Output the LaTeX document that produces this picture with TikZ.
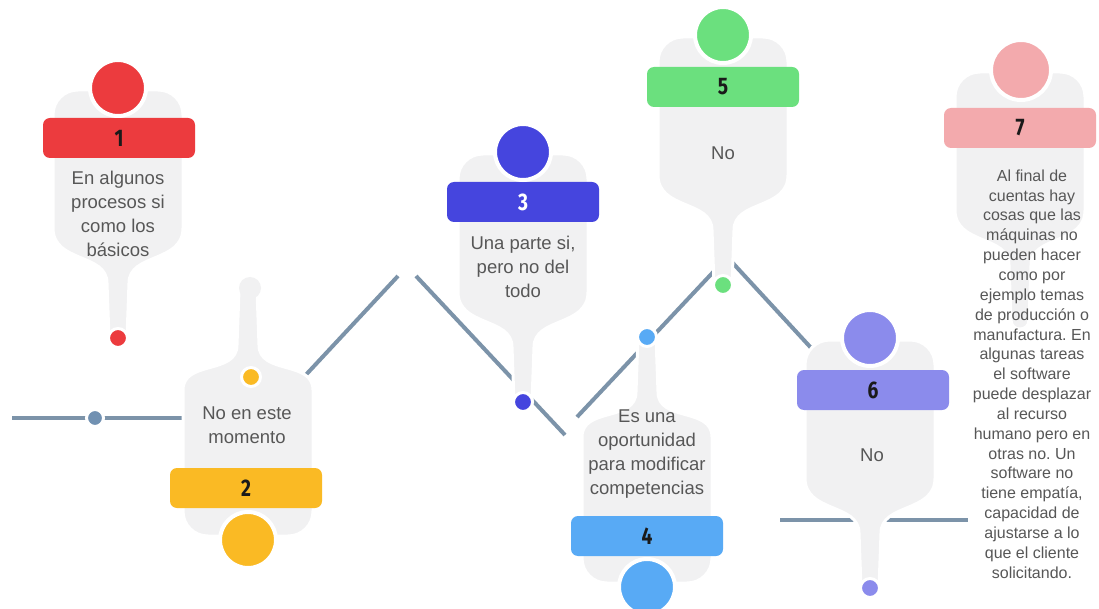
\documentclass[tikz,border=0pt]{standalone}
\usepackage{fontspec}
\setmainfont{Liberation Sans}
\newfontfamily\numfont{Fira Sans}[FakeStretch=0.8]
\frenchspacing
\definecolor{cred}{HTML}{EC3B3E}
\definecolor{cyellow}{HTML}{FABA24}
\definecolor{cblue}{HTML}{4545DE}
\definecolor{clblue}{HTML}{58AAF5}
\definecolor{cgreen}{HTML}{6BE07E}
\definecolor{cpurple}{HTML}{8B8BEC}
\definecolor{cpink}{HTML}{F3AAAD}
\definecolor{bodygray}{HTML}{F1F1F2}
\definecolor{linecol}{HTML}{7C93A9}
\definecolor{txtgray}{HTML}{575757}
\definecolor{numtext}{HTML}{1A1A1A}
\definecolor{ldot}{HTML}{7191B2}
\tikzset{
  body/.style={fill=bodygray, draw=white, line width=3pt},
  bigcirc/.style={circle, fill=#1, draw=white, line width=4pt, minimum size=56pt, inner sep=0pt},
  bar/.style={fill=#1, rounded corners=7pt, minimum width=152pt, minimum height=40pt, inner sep=0pt,
    font=\numfont\bfseries\fontsize{24}{24}\selectfont, text=numtext},
  dotc/.style={circle, fill=#1, draw=white, line width=3pt, minimum size=19pt, inner sep=0pt},
  txt/.style={align=center, text=txtgray, font=\fontsize{18.5}{24}\selectfont},
  txtsmall/.style={align=center, text=txtgray, font=\fontsize{16}{19.85}\selectfont},
  link/.style={draw=linecol, line width=4pt},
}
\newcommand\bodydown[2]{%
\path[body] ({#1-65},{#2+27}) -- ({#1-65},{#2+140})
 .. controls ({#1-65},{#2+175}) and ({#1-11},{#2+165}) .. ({#1-11},{#2+195})
 -- ({#1-9},{#2+250})
 .. controls ({#1-9},{#2+262}) and ({#1+9},{#2+262}) .. ({#1+9},{#2+250})
 -- ({#1+11},{#2+195})
 .. controls ({#1+11},{#2+165}) and ({#1+65},{#2+175}) .. ({#1+65},{#2+140})
 -- ({#1+65},{#2+27})
 .. controls ({#1+65},{#2+13}) and ({#1+54},{#2+2}) .. ({#1+40},{#2+2})
 -- ({#1-40},{#2+2})
 .. controls ({#1-54},{#2+2}) and ({#1-65},{#2+13}) .. ({#1-65},{#2+27}) -- cycle;}
\newcommand\bodyup[2]{%
\path[body] ({#1-65},{#2-29}) -- ({#1-65},{#2-150})
 .. controls ({#1-65},{#2-180}) and ({#1-11},{#2-165}) .. ({#1-11},{#2-195})
 -- ({#1-9},{#2-250})
 .. controls ({#1-9},{#2-262}) and ({#1+9},{#2-262}) .. ({#1+9},{#2-250})
 -- ({#1+11},{#2-195})
 .. controls ({#1+11},{#2-165}) and ({#1+65},{#2-180}) .. ({#1+65},{#2-150})
 -- ({#1+65},{#2-29})
 .. controls ({#1+65},{#2-15}) and ({#1+54},{#2-4}) .. ({#1+40},{#2-4})
 -- ({#1-40},{#2-4})
 .. controls ({#1-54},{#2-4}) and ({#1-65},{#2-15}) .. ({#1-65},{#2-29}) -- cycle;}
\begin{document}
\begin{tikzpicture}[x=1pt,y=-1pt]
\useasboundingbox (0,0) rectangle (1099,609);
\fill[white] (0,0) rectangle (1099,609);
% connector coordinates
\coordinate (a1) at (12,418);
\coordinate (a2) at (182,418);
\coordinate (b1) at (302,379);
\coordinate (b2) at (398,276);
\coordinate (c1) at (416,276);
\coordinate (c2) at (565,435);
\coordinate (d1) at (577,417);
\coordinate (d2) at (717,268);
\coordinate (e1) at (730,260);
\coordinate (e2) at (813,350);
\coordinate (f1) at (780,520);
\coordinate (f2) at (968,520);
\draw[link] (a1) -- (a2);
\draw[link] (b1) -- (b2);
\draw[link] (c1) -- (c2);
\draw[link] (d1) -- (d2);
\draw[link] (e1) -- (e2);
\draw[link] (f1) -- (f2);
\node[circle, fill=ldot, draw=white, line width=3pt, minimum size=17pt, inner sep=0pt] (ld) at (95,418) {};
% bodies
\bodydown{118}{88}
\bodyup{248}{540}
\fill[bodygray] (250,288) circle (11);
\bodydown{523}{152}
\bodyup{647}{587}
\bodydown{723}{35}
\bodydown{870}{338}
\bodydown{1020}{70}
% item 1
\node[bar=cred] (n1) at (119,138) {1};
\node[bigcirc=cred] (c1big) at (118,88) {};
\node[dotc=cred] (d1dot) at (118,338) {};
\node[txt] (t1) at (118,214) {En algunos\\procesos si\\como los\\básicos};
% item 2
\node[bar=cyellow] (n2) at (246,488) {2};
\node[bigcirc=cyellow] (c2big) at (248,540) {};
\node[dotc=cyellow] (d2dot) at (251,377) {};
\node[txt] (t2) at (247,425) {No en este\\momento};
% item 3
\node[bar=cblue, text=white] (n3) at (523,202) {3};
\node[bigcirc=cblue] (c3big) at (523,152) {};
\node[dotc=cblue] (d3dot) at (523,402) {};
\node[txt] (t3) at (523,267) {Una parte si,\\pero no del\\todo};
% item 4
\node[bar=clblue] (n4) at (647,536) {4};
\node[bigcirc=clblue] (c4big) at (647,587) {};
\node[dotc=clblue] (d4dot) at (647,337) {};
\node[txt] (t4) at (647,454) {Es una\\oportunidad\\para modificar\\competencias};
% item 5
\node[bar=cgreen] (n5) at (723,87) {5};
\node[bigcirc=cgreen] (c5big) at (723,35) {};
\node[dotc=cgreen] (d5dot) at (723,285) {};
\node[txt] (t5) at (723,153) {No};
% item 6
\node[bar=cpurple] (n6) at (873,390) {6};
\node[bigcirc=cpurple] (c6big) at (870,338) {};
\node[dotc=cpurple] (d6dot) at (870,588) {};
\node[txt] (t6) at (872,455) {No};
% item 7
\node[bar=cpink] (n7) at (1020,128) {7};
\node[bigcirc=cpink, minimum size=60pt] (c7big) at (1021,70) {};
\node[txtsmall] (t7) at (1032,374) {Al final de\\cuentas hay\\cosas que las\\máquinas no\\pueden hacer\\como por\\ejemplo temas\\de producción o\\manufactura. En\\algunas tareas\\el software\\puede desplazar\\al recurso\\humano pero en\\otras no. Un\\software no\\tiene empatía,\\capacidad de\\ajustarse a lo\\que el cliente\\solicitando.};
\end{tikzpicture}
\end{document}
